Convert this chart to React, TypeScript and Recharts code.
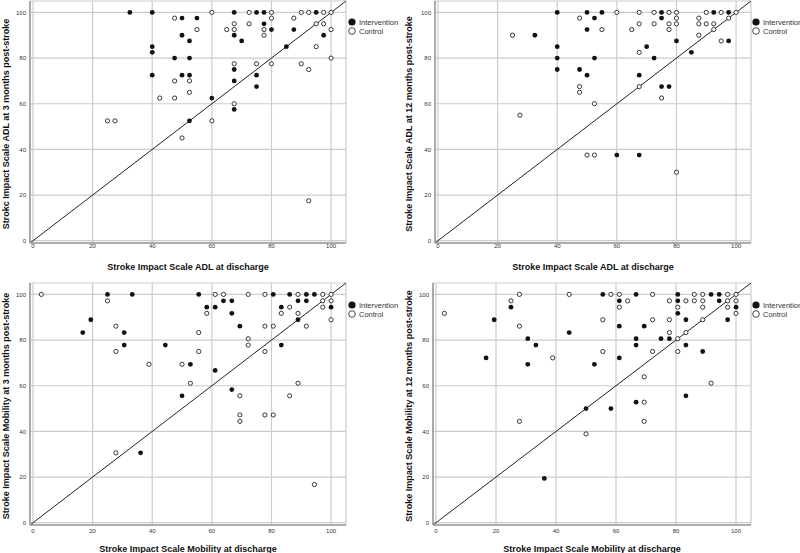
import React from 'react';
import {
  ScatterChart,
  Scatter,
  XAxis,
  YAxis,
  CartesianGrid,
  ReferenceLine,
  Legend,
} from 'recharts';

type Pt = [number, number];

const ticks = [0, 20, 40, 60, 80, 100];
const groups = ['Intervention', 'Control'];

// SIS ADL: discharge vs 3 months
const adl3Intervention: Pt[] = [
  [32.5, 100], [40, 100], [50, 97.5], [55, 97.5], [50, 90], [52.5, 87.5], [40, 85], [40, 82.5],
  [47.5, 80], [52.5, 80], [40, 72.5], [50, 72.5], [52.5, 72.5], [60, 62.5], [52.5, 52.5],
  [67.5, 100], [67.5, 90], [70, 87.5], [67.5, 75], [67.5, 70], [67.5, 57.5], [75, 100],
  [77.5, 100], [77.5, 95], [80, 92.5], [75, 72.5], [75, 67.5], [85, 85], [87.5, 92.5],
  [95, 100], [97.5, 90],
];
const adl3Control: Pt[] = [
  [47.5, 97.5], [55, 92.5], [60, 100], [65, 92.5], [67.5, 95], [67.5, 92.5], [72.5, 100],
  [72.5, 95], [77.5, 92.5], [77.5, 90], [80, 100], [80, 97.5], [87.5, 97.5], [90, 100],
  [92.5, 100], [97.5, 100], [100, 100], [95, 95], [97.5, 95], [100, 92.5], [95, 85], [100, 80],
  [90, 77.5], [92.5, 75], [92.5, 17.5], [67.5, 77.5], [67.5, 60], [75, 77.5], [80, 77.5],
  [47.5, 70], [52.5, 70], [52.5, 65], [42.5, 62.5], [47.5, 62.5], [25, 52.5], [27.5, 52.5],
  [60, 52.5], [50, 45],
];

// SIS ADL: discharge vs 12 months
const adl12Intervention: Pt[] = [
  [40, 100], [50, 100], [55, 100], [52.5, 97.5], [50, 92.5], [32.5, 90], [40, 85], [40, 80],
  [52.5, 80], [40, 75], [47.5, 75], [50, 72.5], [70, 85], [72.5, 80], [67.5, 72.5], [75, 100],
  [75, 97.5], [80, 87.5], [75, 67.5], [77.5, 67.5], [85, 82.5], [60, 37.5], [67.5, 37.5],
  [92.5, 100], [97.5, 100], [97.5, 87.5],
];
const adl12Control: Pt[] = [
  [47.5, 97.5], [55, 92.5], [60, 100], [65, 92.5], [67.5, 100], [67.5, 95], [67.5, 82.5],
  [67.5, 67.5], [72.5, 100], [72.5, 95], [77.5, 100], [77.5, 95], [77.5, 92.5], [80, 100],
  [80, 97.5], [80, 95], [75, 62.5], [87.5, 97.5], [87.5, 95], [87.5, 90], [90, 100], [90, 95],
  [92.5, 95], [92.5, 92.5], [95, 100], [95, 87.5], [97.5, 97.5], [100, 100], [25, 90],
  [27.5, 55], [47.5, 67.5], [47.5, 65], [52.5, 60], [50, 37.5], [52.5, 37.5], [80, 30],
];

// SIS Mobility: discharge vs 3 months
const mob3Intervention: Pt[] = [
  [16.7, 83.3], [19.4, 88.9], [25, 100], [33.3, 100], [30.6, 83.3], [30.6, 77.8], [44.4, 77.8],
  [36.1, 30.6], [52.8, 69.4], [50, 55.6], [55.6, 100], [58.3, 94.4], [61.1, 94.4], [63.9, 97.2],
  [66.7, 97.2], [66.7, 91.7], [69.4, 86.1], [61.1, 66.7], [66.7, 58.3], [80.6, 100],
  [83.3, 94.4], [83.3, 77.8], [86.1, 100], [88.9, 97.2], [88.9, 88.9], [91.7, 100],
  [91.7, 97.2], [94.4, 100], [100, 94.4],
];
const mob3Control: Pt[] = [
  [2.8, 100], [25, 97.2], [27.8, 86.1], [27.8, 75], [27.8, 30.6], [38.9, 69.4], [50, 69.4],
  [52.8, 61.1], [55.6, 83.3], [55.6, 75], [58.3, 91.7], [61.1, 100], [63.9, 100], [72.2, 100],
  [72.2, 80.6], [72.2, 77.8], [69.4, 55.6], [69.4, 47.2], [69.4, 44.4], [77.8, 100],
  [77.8, 86.1], [77.8, 75], [77.8, 47.2], [80.6, 86.1], [80.6, 47.2], [83.3, 91.7],
  [86.1, 94.4], [86.1, 55.6], [88.9, 100], [88.9, 91.7], [88.9, 61.1], [91.7, 86.1],
  [94.4, 16.7], [97.2, 100], [97.2, 97.2], [97.2, 94.4], [100, 100], [100, 97.2], [100, 88.9],
];

// SIS Mobility: discharge vs 12 months
const mob12Intervention: Pt[] = [
  [16.7, 72.2], [19.4, 88.9], [25, 94.4], [30.6, 80.6], [30.6, 69.4], [33.3, 77.8],
  [44.4, 83.3], [36.1, 19.4], [50, 50], [52.8, 69.4], [55.6, 100], [58.3, 50], [61.1, 97.2],
  [61.1, 86.1], [61.1, 72.2], [66.7, 100], [66.7, 80.6], [66.7, 77.8], [66.7, 52.8],
  [69.4, 86.1], [75, 80.6], [77.8, 80.6], [80.6, 100], [80.6, 97.2], [80.6, 91.7],
  [83.3, 88.9], [83.3, 77.8], [83.3, 55.6], [88.9, 75], [91.7, 100], [94.4, 100],
  [94.4, 97.2], [97.2, 88.9], [100, 94.4],
];
const mob12Control: Pt[] = [
  [2.8, 91.7], [25, 97.2], [27.8, 100], [27.8, 86.1], [27.8, 44.4], [38.9, 72.2], [44.4, 100],
  [50, 38.9], [55.6, 88.9], [55.6, 75], [58.3, 100], [61.1, 100], [61.1, 94.4], [63.9, 97.2],
  [69.4, 63.9], [69.4, 52.8], [69.4, 44.4], [72.2, 100], [72.2, 88.9], [72.2, 75],
  [77.8, 97.2], [77.8, 88.9], [77.8, 83.3], [80.6, 94.4], [80.6, 80.6], [80.6, 75],
  [83.3, 97.2], [83.3, 83.3], [86.1, 100], [86.1, 97.2], [88.9, 100], [88.9, 97.2],
  [88.9, 94.4], [88.9, 88.9], [91.7, 61.1], [97.2, 100], [97.2, 97.2], [97.2, 94.4],
  [100, 100], [100, 97.2], [100, 91.7],
];

const font = '"Liberation Sans", Arial, sans-serif';
const toRows = (pts: Pt[]) => pts.map(([x, y]) => ({ x, y }));

const FilledDot = (p: any) => <circle cx={p.cx} cy={p.cy} r={2.4} fill="#111" />;
const OpenDot = (p: any) => (
  <circle cx={p.cx} cy={p.cy} r={2.1} fill="#fff" stroke="#222" strokeWidth={0.9} />
);

const LegendBox = () => (
  <svg width={56} height={18} style={{ display: 'block', overflow: 'visible' }}>
    <circle cx={4} cy={4} r={3.6} fill="#111" />
    <circle cx={4} cy={13} r={3.3} fill="#fff" stroke="#333" strokeWidth={0.9} />
    <text x={11} y={6.7} fontSize={7.5} fill="#333" fontFamily={font}>{groups[0]}</text>
    <text x={11} y={15.7} fontSize={7.5} fill="#333" fontFamily={font}>{groups[1]}</text>
  </svg>
);

type PanelProps = {
  left: number;
  top: number;
  height: number;
  marginTop: number;
  yAxisWidth: number;
  xAxisHeight: number;
  xTickMargin: number;
  xTitle: string;
  yTitle: string;
  yTitleX: number;
  legendX: number;
  legendY: number;
  intervention: Pt[];
  control: Pt[];
};

function Panel(props: PanelProps) {
  const width = 400;
  const plotRight = props.left === 0 ? 346 : 351;
  const marginRight = width - plotRight;
  return (
    <div style={{ position: 'absolute', left: props.left, top: props.top }}>
      <ScatterChart
        width={width}
        height={props.height}
        margin={{ top: props.marginTop, right: marginRight, bottom: 0, left: 0 }}
      >
        <CartesianGrid stroke="#cccccc" strokeWidth={1.2} />
        <XAxis
          type="number"
          dataKey="x"
          domain={[-1, 105]}
          ticks={ticks}
          allowDataOverflow
          height={props.xAxisHeight}
          tickSize={0}
          tickMargin={props.xTickMargin}
          tickLine={false}
          axisLine={{ stroke: '#999', strokeWidth: 1.5 }}
          tick={{ fontSize: 6, fill: '#333', fontFamily: font }}
          label={(lp: any) => {
            const vb = lp.viewBox;
            return (
              <text
                x={vb.x + vb.width / 2}
                y={vb.y + 27}
                textAnchor="middle"
                fontSize={9}
                fontWeight="bold"
                fill="#111"
                fontFamily={font}
              >
                {props.xTitle}
              </text>
            );
          }}
        />
        <YAxis
          type="number"
          dataKey="y"
          domain={[-1, 105]}
          ticks={ticks}
          allowDataOverflow
          width={props.yAxisWidth}
          tickSize={0}
          tickMargin={4}
          tickLine={false}
          axisLine={{ stroke: '#999', strokeWidth: 1.5 }}
          tick={{ fontSize: 6, fill: '#333', fontFamily: font }}
          label={(lp: any) => {
            const vb = lp.viewBox;
            const cy = vb.y + vb.height / 2 + 2;
            return (
              <text
                x={props.yTitleX}
                y={cy}
                transform={`rotate(-90 ${props.yTitleX} ${cy})`}
                textAnchor="middle"
                fontSize={9}
                fontWeight="bold"
                fill="#111"
                fontFamily={font}
              >
                {props.yTitle}
              </text>
            );
          }}
        />
        <ReferenceLine
          segment={[{ x: -1, y: -1 }, { x: 105, y: 105 }]}
          stroke="#222"
          strokeWidth={1}
          ifOverflow="visible"
        />
        <Scatter
          name={groups[1]}
          data={toRows(props.control)}
          shape={OpenDot}
          isAnimationActive={false}
        />
        <Scatter
          name={groups[0]}
          data={toRows(props.intervention)}
          shape={FilledDot}
          isAnimationActive={false}
        />
        <Legend
          layout="vertical"
          align="center"
          verticalAlign="middle"
          content={LegendBox}
          wrapperStyle={{ left: props.legendX, top: props.legendY, width: 56, height: 18 }}
        />
      </ScatterChart>
    </div>
  );
}

export default function App() {
  return (
    <div
      style={{
        position: 'absolute',
        left: 0,
        top: 0,
        width: 800,
        height: 553,
        background: '#fff',
        overflow: 'hidden',
      }}
    >
      <Panel
        left={0}
        top={0}
        height={276}
        marginTop={1}
        yAxisWidth={30}
        xAxisHeight={33}
        xTickMargin={1}
        xTitle="Stroke Impact Scale ADL at discharge"
        yTitle="Strokc Impact Scale ADL at 3 months post-stroke"
        yTitleX={8.5}
        legendX={348}
        legendY={18}
        intervention={adl3Intervention}
        control={adl3Control}
      />
      <Panel
        left={400}
        top={0}
        height={276}
        marginTop={1}
        yAxisWidth={35}
        xAxisHeight={33}
        xTickMargin={1}
        xTitle="Stroke Impact Scale ADL at discharge"
        yTitle="Stroke Impact Scale ADL at 12 months post-stroke"
        yTitleX={11.5}
        legendX={352}
        legendY={18}
        intervention={adl12Intervention}
        control={adl12Control}
      />
      <Panel
        left={0}
        top={276}
        height={277}
        marginTop={7}
        yAxisWidth={30}
        xAxisHeight={28}
        xTickMargin={3.5}
        xTitle="Stroke Impact Scale Mobility at discharge"
        yTitle="Stroke Impact Scale Mobility at 3 months post-stroke"
        yTitleX={8.5}
        legendX={348}
        legendY={24.5}
        intervention={mob3Intervention}
        control={mob3Control}
      />
      <Panel
        left={400}
        top={276}
        height={277}
        marginTop={7}
        yAxisWidth={33}
        xAxisHeight={28}
        xTickMargin={3.5}
        xTitle="Stroke Impact Scale Mobility at discharge"
        yTitle="Stroke Impact Scale Mobility at 12 months post-stroke"
        yTitleX={11.5}
        legendX={352}
        legendY={24.5}
        intervention={mob12Intervention}
        control={mob12Control}
      />
    </div>
  );
}
